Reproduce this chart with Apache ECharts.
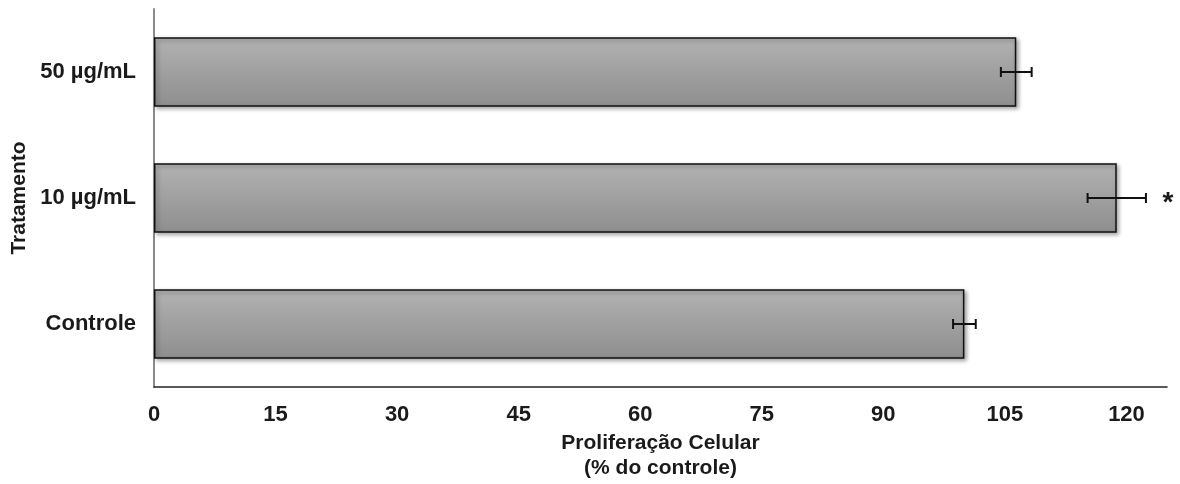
<!DOCTYPE html>
<html>
<head>
<meta charset="utf-8">
<script src="https://cdn.jsdelivr.net/npm/echarts@6/dist/echarts.min.js"></script>
<style>
  html, body { margin: 0; padding: 0; background: #fff; }
  #chart { width: 1180px; height: 484px; }
</style>
</head>
<body>
<div id="chart"></div>
<script>
// Treatments (bottom to top on the category axis)
const categories = ['Controle', '10 µg/mL', '50 µg/mL'];
// Mean proliferation, % of control
const values = [100, 118.8, 106.4];
// Error bar half-widths
const errors = [1.4, 3.6, 1.9];
// Significance markers
const marks = ['', '*', ''];
// X axis ticks
const xTickInterval = 15;
const xMax = 125;

const FONT = '"Liberation Sans", Arial, sans-serif';
const TEXT = '#1a1a1a';
const FS_LABEL = 22;
const FS_NAME = 21;

const chart = echarts.init(document.getElementById('chart'));

chart.setOption({
  animation: false,
  backgroundColor: '#ffffff',
  grid: {
    left: 154, right: 13, top: 9, bottom: 97,
    containLabel: false,
    outerBoundsMode: 'none'
  },
  xAxis: {
    type: 'value',
    min: 0,
    max: xMax,
    interval: xTickInterval,
    name: 'Proliferação Celular\n(% do controle)',
    nameLocation: 'middle',
    nameGap: 43,
    nameTextStyle: {
      color: TEXT, fontFamily: FONT, fontWeight: 'bold', fontSize: FS_NAME,
      lineHeight: 25
    },
    axisLine: { show: true, lineStyle: { color: '#222', width: 1.5 } },
    axisTick: { show: false },
    splitLine: { show: false },
    axisLabel: {
      showMaxLabel: false,
      color: TEXT, fontFamily: FONT, fontWeight: 'bold', fontSize: FS_LABEL,
      margin: 17
    }
  },
  yAxis: {
    type: 'category',
    data: categories,
    name: 'Tratamento',
    nameLocation: 'middle',
    nameRotate: 90,
    nameGap: 123,
    nameTextStyle: { color: TEXT, fontFamily: FONT, fontWeight: 'bold', fontSize: FS_NAME },
    axisLine: { show: true, lineStyle: { color: '#8a8a8a', width: 2 } },
    axisTick: { show: false },
    splitLine: { show: false },
    axisLabel: {
      color: TEXT, fontFamily: FONT, fontWeight: 'bold', fontSize: FS_LABEL,
      margin: 18
    }
  },
  series: [
    {
      type: 'bar',
      data: values,
      barWidth: '55%',
      z: 2,
      itemStyle: {
        color: new echarts.graphic.LinearGradient(0, 0, 0, 1, [
          { offset: 0, color: '#b2b2b2' },
          { offset: 1, color: '#8e8e8e' }
        ]),
        borderColor: '#111',
        borderWidth: 1.5,
        shadowColor: 'rgba(0,0,0,0.35)',
        shadowBlur: 4,
        shadowOffsetX: 2,
        shadowOffsetY: 2
      }
    },
    {
      type: 'custom',
      z: 5,
      data: values.map((v, i) => [i, v, errors[i]]),
      renderItem: function (params, api) {
        const i = api.value(0);
        const v = api.value(1);
        const e = api.value(2);
        const lo = api.coord([v - e, i]);
        const hi = api.coord([v + e, i]);
        const y = lo[1];
        const cap = 5;
        const style = { stroke: '#111', lineWidth: 2 };
        const children = [
          { type: 'line', shape: { x1: lo[0], y1: y, x2: hi[0], y2: y }, style },
          { type: 'line', shape: { x1: lo[0], y1: y - cap, x2: lo[0], y2: y + cap }, style },
          { type: 'line', shape: { x1: hi[0], y1: y - cap, x2: hi[0], y2: y + cap }, style }
        ];
        if (marks[i]) {
          children.push({
            type: 'text',
            style: {
              text: marks[i],
              x: hi[0] + 22, y: y + 5,
              align: 'center', verticalAlign: 'middle',
              fill: TEXT,
              font: 'bold 28px "Liberation Sans", Arial, sans-serif'
            }
          });
        }
        return { type: 'group', children };
      }
    }
  ]
});
</script>
</body>
</html>
